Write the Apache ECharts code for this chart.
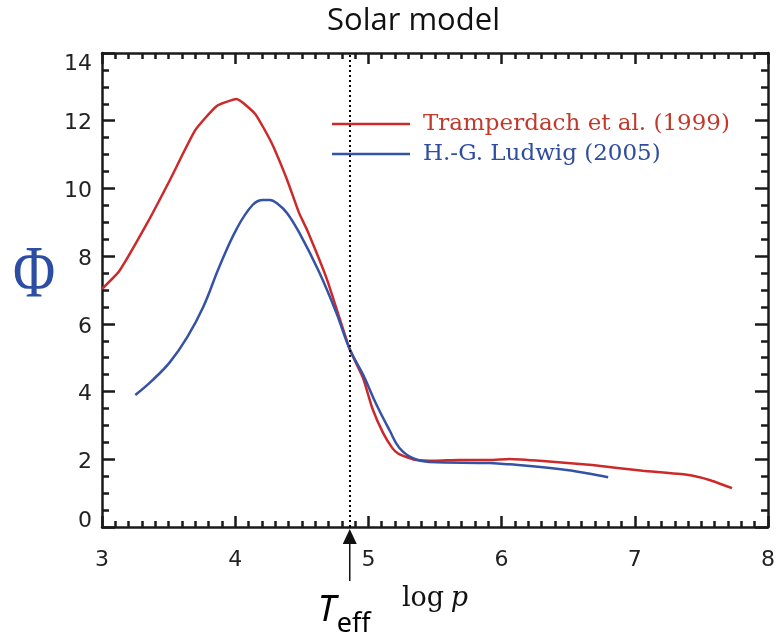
<!DOCTYPE html>
<html><head><meta charset="utf-8">
<script src="https://cdn.jsdelivr.net/npm/echarts@6/dist/echarts.min.js"></script>
<style>html,body{margin:0;padding:0;background:#fff}#c{width:778px;height:637px}</style>
</head><body><div id="c"></div>
<script>
const TITLE = 'Solar model';
const X_MIN = 3, X_MAX = 8, X_STEP = 1;
const Y_MIN = 0, Y_MAX = 14, Y_STEP = 2;
const SERIES_NAMES = ['Tramperdach et al. (1999)', 'H.-G. Ludwig (2005)'];
const redX = [3.0,3.13,3.34,3.51,3.70,3.86,4.01,4.15,4.27,4.39,4.48,4.54,4.69,4.86,4.96,5.03,5.11,5.18,5.22,5.29,5.36,5.5,5.68,5.91,6.06,6.31,6.68,7.06,7.39,7.56,7.73];
const redY = [7.03,7.56,8.98,10.25,11.72,12.43,12.64,12.2,11.37,10.25,9.27,8.77,7.3,5.25,4.4,3.5,2.78,2.33,2.18,2.06,1.98,1.96,1.98,1.98,2.01,1.95,1.83,1.66,1.54,1.39,1.15];
const blueX = [3.25,3.38,3.51,3.64,3.76,3.88,4.01,4.13,4.21,4.26,4.32,4.39,4.48,4.63,4.76,4.86,4.96,5.06,5.16,5.23,5.33,5.46,5.91,6.06,6.43,6.64,6.80];
const blueY = [3.9,4.34,4.87,5.61,6.5,7.68,8.8,9.51,9.66,9.66,9.54,9.27,8.7,7.53,6.32,5.25,4.5,3.62,2.85,2.35,2.04,1.92,1.89,1.85,1.71,1.59,1.47];
const TEFF_LOGP = 4.86;
const X_NAME_A = 'log', X_NAME_B = 'p';
const Y_NAME = 'Φ';

const RED = '#cc2a2a', BLUE = '#3553a6';
const AX = '#1a1a1a';
const pairs = (xs, ys) => xs.map((x, i) => [x, ys[i]]);

const chart = echarts.init(document.getElementById('c'));
const tickFont = {fontFamily: 'DejaVu Sans', fontSize: 22, color: '#222'};
const baseX = {
  type: 'value', min: X_MIN, max: X_MAX, interval: X_STEP,
  axisLine: {show: true, onZero: false, lineStyle: {color: AX, width: 2.5}},
  axisTick: {show: true, inside: true, length: 11, lineStyle: {color: AX, width: 2.5}},
  minorTick: {show: true, splitNumber: 10, length: 6, lineStyle: {color: AX, width: 2.5}},
  splitLine: {show: false}, minorSplitLine: {show: false}
};
const baseY = {
  type: 'value', min: Y_MIN, max: Y_MAX, interval: Y_STEP,
  axisLine: {show: true, onZero: false, lineStyle: {color: AX, width: 2.5}},
  axisTick: {show: true, inside: true, length: 13, lineStyle: {color: AX, width: 2.5}},
  minorTick: {show: true, splitNumber: 4, length: 7, lineStyle: {color: AX, width: 2.5}},
  splitLine: {show: false}, minorSplitLine: {show: false}
};

chart.setOption({
  animation: false,
  backgroundColor: '#fff',
  title: {
    text: TITLE, left: 322, top: 1,
    textStyle: {fontFamily: 'Open Sans', fontSize: 31, fontWeight: 'normal', color: '#111'}
  },
  grid: {left: 102, top: 53, width: 667, height: 474, containLabel: false},
  legend: {
    orient: 'vertical', left: 332, top: 112, padding: 0,
    itemWidth: 78, itemHeight: 2.5, itemGap: 6,
    icon: 'rect',
    data: [
      {name: SERIES_NAMES[0], textStyle: {color: '#c0392b'}},
      {name: SERIES_NAMES[1], textStyle: {color: '#2f4d9e'}}
    ],
    textStyle: {fontFamily: 'DejaVu Serif', fontSize: 23, lineHeight: 24, padding: [0, 0, 0, 8]}
  },
  xAxis: [
    Object.assign({}, baseX, {
      position: 'bottom',
      axisLabel: Object.assign({margin: 22}, tickFont),
      name: '{a|' + X_NAME_A + '}  {b|' + X_NAME_B + '}',
      nameLocation: 'middle', nameGap: 58,
      nameTextStyle: {rich: {
        a: {fontFamily: 'DejaVu Serif', fontSize: 27, color: '#111'},
        b: {fontFamily: 'DejaVu Serif', fontStyle: 'italic', fontSize: 27, color: '#111'}
      }}
    }),
    Object.assign({}, baseX, {position: 'top', axisLabel: {show: false}})
  ],
  yAxis: [
    Object.assign({}, baseY, {
      position: 'left',
      axisLabel: Object.assign({
        margin: 10,
        formatter: v => v === Y_MAX ? '{t|' + v + '}' : (v === Y_MIN ? '{b|' + v + '}' : '{m|' + v + '}'),
        rich: {
          t: Object.assign({padding: [22, 0, 0, 0]}, tickFont),
          b: Object.assign({padding: [0, 0, 12, 0]}, tickFont),
          m: Object.assign({padding: [6, 0, 0, 0]}, tickFont)
        }
      }, tickFont)
    }),
    Object.assign({}, baseY, {position: 'right', axisLabel: {show: false}})
  ],
  series: [
    {
      name: SERIES_NAMES[0], type: 'line', data: pairs(redX, redY),
      showSymbol: false, symbol: 'none', smooth: 0.15,
      lineStyle: {color: RED, width: 2.5}, itemStyle: {color: RED},
      markLine: {
        silent: true, symbol: 'none', label: {show: false},
        lineStyle: {color: '#000', type: [2, 3], width: 2},
        data: [{xAxis: TEFF_LOGP}]
      }
    },
    {
      name: SERIES_NAMES[1], type: 'line', data: pairs(blueX, blueY),
      showSymbol: false, symbol: 'none', smooth: 0.4,
      lineStyle: {color: BLUE, width: 2.5}, itemStyle: {color: BLUE}
    }
  ]
});

const px = chart.convertToPixel({xAxisIndex: 0}, TEFF_LOGP);
const py = chart.convertToPixel({yAxisIndex: 0}, Y_MIN);
const pyMid = chart.convertToPixel({yAxisIndex: 0}, (Y_MIN + Y_MAX) / 2);
chart.setOption({
  graphic: [
    {type: 'text', x: 34, y: pyMid - 12, scaleX: 0.78,
      style: {text: Y_NAME, fontFamily: 'Liberation Serif', fontSize: 74, fill: '#2b4da3', align: 'center', verticalAlign: 'middle'}},
    {type: 'polygon', shape: {points: [[px, py + 2], [px - 7, py + 17], [px + 7, py + 17]]}, style: {fill: '#111'}},
    {type: 'line', shape: {x1: px, y1: py + 15, x2: px, y2: py + 54}, style: {stroke: '#111', lineWidth: 1.5}},
    {type: 'text', left: px - 32, top: py + 66, style: {text: 'T', fontFamily: 'Noto Sans', fontStyle: 'italic', fontSize: 36, fill: '#000'}},
    {type: 'text', left: px - 13, top: py + 84, style: {text: 'eff', fontFamily: 'Noto Sans', fontSize: 27, fill: '#000'}}
  ]
});
</script>
</body></html>
